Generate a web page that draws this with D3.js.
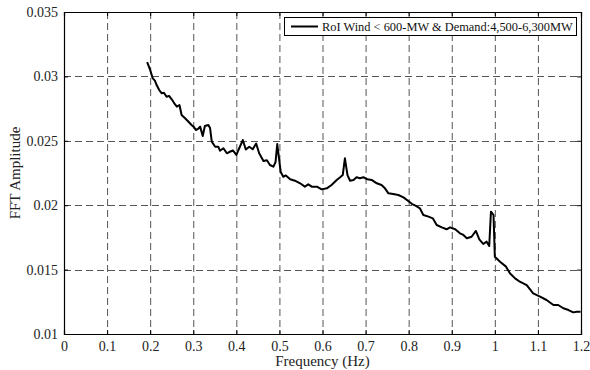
<!DOCTYPE html>
<html><head><meta charset="utf-8">
<script src="https://cdn.jsdelivr.net/npm/d3@7"></script>
<style>body{margin:0;background:#fff}svg{display:block}text{font-family:"Liberation Serif","Times New Roman",serif}</style>
</head><body><svg id="c" width="590" height="370"></svg>
<script>
const seriesName = "RoI Wind < 600-MW & Demand:4,500-6,300MW";
const xTicks = [0,0.1,0.2,0.3,0.4,0.5,0.6,0.7,0.8,0.9,1,1.1,1.2];
const yTicks = [0.01,0.015,0.02,0.025,0.03,0.035];
const freq = [0.193,0.200,0.206,0.211,0.215,0.221,0.227,0.232,0.238,0.244,0.250,0.256,0.262,0.268,0.273,0.281,0.289,0.296,0.302,0.306,0.311,0.316,0.322,0.327,0.335,0.339,0.343,0.351,0.358,0.362,0.370,0.378,0.385,0.392,0.400,0.407,0.415,0.422,0.430,0.438,0.446,0.453,0.463,0.471,0.478,0.486,0.491,0.495,0.499,0.503,0.509,0.515,0.525,0.536,0.548,0.559,0.567,0.575,0.587,0.598,0.610,0.621,0.633,0.641,0.647,0.652,0.658,0.664,0.672,0.679,0.687,0.695,0.704,0.714,0.726,0.737,0.745,0.753,0.764,0.776,0.788,0.799,0.808,0.817,0.826,0.834,0.846,0.856,0.865,0.877,0.888,0.896,0.908,0.919,0.927,0.935,0.946,0.956,0.964,0.973,0.981,0.987,0.991,0.997,1.000,1.012,1.026,1.035,1.047,1.058,1.074,1.089,1.105,1.120,1.136,1.147,1.159,1.171,1.182,1.190,1.199];
const amp = [0.03110,0.03050,0.02985,0.02967,0.02933,0.02894,0.02869,0.02873,0.02842,0.02848,0.02822,0.02791,0.02765,0.02778,0.02700,0.02675,0.02648,0.02623,0.02605,0.02584,0.02592,0.02610,0.02537,0.02615,0.02623,0.02599,0.02493,0.02454,0.02454,0.02423,0.02442,0.02403,0.02415,0.02425,0.02390,0.02444,0.02506,0.02432,0.02454,0.02434,0.02479,0.02403,0.02343,0.02349,0.02312,0.02299,0.02335,0.02475,0.02366,0.02258,0.02221,0.02231,0.02201,0.02190,0.02170,0.02144,0.02162,0.02144,0.02144,0.02123,0.02131,0.02157,0.02196,0.02217,0.02234,0.02364,0.02234,0.02190,0.02196,0.02217,0.02209,0.02217,0.02201,0.02196,0.02170,0.02157,0.02131,0.02092,0.02087,0.02079,0.02061,0.02033,0.02009,0.01994,0.01976,0.01924,0.01911,0.01898,0.01846,0.01828,0.01813,0.01828,0.01813,0.01782,0.01769,0.01743,0.01755,0.01800,0.01735,0.01699,0.01717,0.01683,0.01950,0.01924,0.01600,0.01561,0.01523,0.01471,0.01432,0.01406,0.01380,0.01316,0.01290,0.01264,0.01225,0.01225,0.01200,0.01186,0.01168,0.01173,0.01173];

const L=64,R=581,T=12,B=334;
const svg=d3.select("#c");
const x=d3.scaleLinear().domain([0,1.2]).range([L,R]);
const y=d3.scaleLinear().domain([0.01,0.035]).range([B,T]);

// grid
const g=svg.append("g");
g.selectAll(".vg").data(xTicks.slice(1,-1)).join("line")
 .attr("x1",d=>x(d)+0.5).attr("x2",d=>x(d)+0.5).attr("y1",T).attr("y2",B)
 .attr("stroke","#555").attr("stroke-width",1).attr("stroke-dasharray","7,4");
g.selectAll(".hg").data(yTicks.slice(1,-1)).join("line")
 .attr("y1",d=>Math.round(y(d))+0.5).attr("y2",d=>Math.round(y(d))+0.5).attr("x1",L).attr("x2",R)
 .attr("stroke","#555").attr("stroke-width",1).attr("stroke-dasharray","7,4");

// axes
const fmt=d=>String(+d.toFixed(3));
svg.append("g").attr("transform",`translate(0,${B})`)
 .call(d3.axisBottom(x).tickValues(xTicks).tickSize(-4).tickPadding(7).tickFormat(fmt));
svg.append("g").attr("transform",`translate(${L},0)`)
 .call(d3.axisLeft(y).tickValues(yTicks).tickSize(-4).tickPadding(6).tickFormat(fmt));
svg.append("g").attr("transform",`translate(0,${T})`)
 .call(d3.axisTop(x).tickValues(xTicks).tickSize(-4).tickFormat(""));
svg.append("g").attr("transform",`translate(${R},0)`)
 .call(d3.axisRight(y).tickValues(yTicks).tickSize(-4).tickFormat(""));
svg.selectAll(".domain").attr("stroke","#000").attr("stroke-width",1.2);
svg.selectAll(".tick line").attr("stroke","#000");
svg.selectAll(".tick text").attr("font-size",14).attr("fill","#222")
 .attr("font-family","'Liberation Serif',serif");

// labels
svg.append("text").attr("x",(L+R)/2).attr("y",366).attr("text-anchor","middle")
 .attr("font-size",15).attr("fill","#222").text("Frequency (Hz)");
svg.append("text").attr("transform",`translate(20,${(T+B)/2}) rotate(-90)`).attr("text-anchor","middle")
 .attr("font-size",15).attr("fill","#222").text("FFT Amplitude");

// line
const pts=freq.map((f,i)=>[f,amp[i]]);
svg.append("path").datum(pts)
 .attr("d",d3.line().x(d=>x(d[0])).y(d=>y(d[1])))
 .attr("fill","none").attr("stroke","#000").attr("stroke-width",2).attr("stroke-linejoin","round");

// legend
const lg=svg.append("g");
lg.append("rect").attr("x",284.5).attr("y",17.5).attr("width",292).attr("height",18)
 .attr("fill","#fff").attr("stroke","#000").attr("stroke-width",1);
lg.append("line").attr("x1",291).attr("x2",318).attr("y1",26.5).attr("y2",26.5)
 .attr("stroke","#000").attr("stroke-width",2);
lg.append("text").attr("x",322).attr("y",31).attr("font-size",12.4).attr("fill","#111")
 .text(seriesName);
</script></body></html>
